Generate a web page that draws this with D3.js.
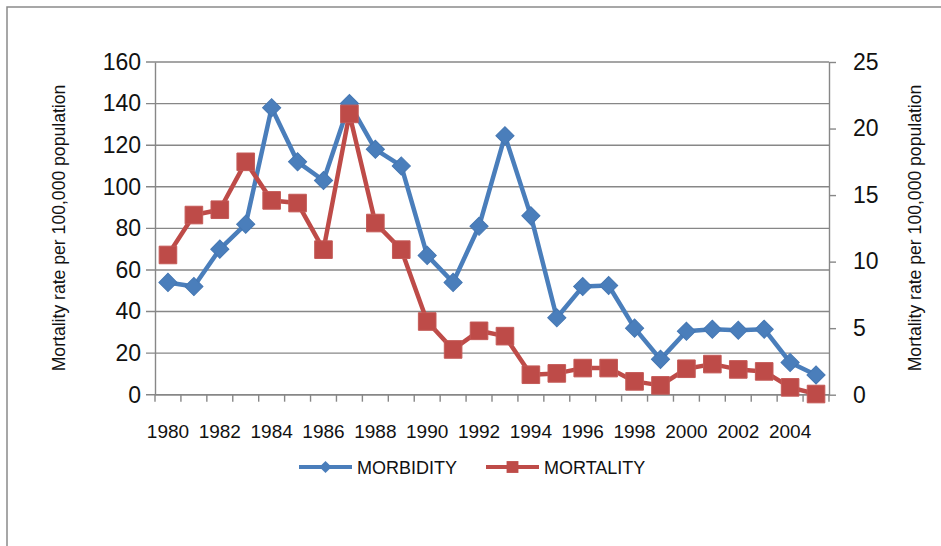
<!DOCTYPE html>
<html>
<head>
<meta charset="utf-8">
<script src="https://cdn.jsdelivr.net/npm/d3@7/dist/d3.min.js"></script>
<style>
  html, body { margin: 0; padding: 0; background: #fff; }
  svg { display: block; font-family: "Liberation Sans", Arial, sans-serif; }
  .axis text { fill: #111; }
</style>
</head>
<body>
<svg id="chart" width="941" height="546"></svg>
<script>
// ── Data ──────────────────────────────────────────────
const years = d3.range(1980, 2006);
const morbidity = [54, 52, 70, 82, 138, 112, 103, 140, 118, 110, 67, 54, 81, 124.5, 86, 37,
  52, 52.5, 32, 17, 30.5, 31.5, 31, 31.5, 15.5, 9.5];
const mortality = [10.5, 13.5, 13.9, 17.5, 14.6, 14.4, 10.9, 21.1, 12.9, 10.9, 5.5, 3.4, 4.8, 4.4, 1.5, 1.6,
  2.0, 2.0, 1.0, 0.7, 1.95, 2.3, 1.9, 1.75, 0.55, 0.05];
const leftTicks = [0, 20, 40, 60, 80, 100, 120, 140, 160];
const rightTicks = [0, 5, 10, 15, 20, 25];
const yearLabels = years.filter((y) => y % 2 === 0);
const seriesNames = ['MORBIDITY', 'MORTALITY'];
const axisTitle = 'Mortality rate per 100,000 population';

// ── Layout ────────────────────────────────────────────
const plot = {left: 155, right: 829, top: 62, bottom: 394.7};
const BLUE = '#4A7EBB';
const RED = '#BE4B48';
const GRID = '#878787';

const svg = d3.select('#chart');

// outer frame
svg.append('rect')
  .attr('x', 7).attr('y', 7)
  .attr('width', 960).attr('height', 560)
  .attr('fill', 'none').attr('stroke', '#8a8a8a').attr('stroke-width', 1.5);

const xBand = d3.scaleBand().domain(years).range([plot.left, plot.right]).padding(0);
const xPos = (yr) => xBand(yr) + xBand.bandwidth() / 2;
const yLeft = d3.scaleLinear().domain([0, 160]).range([plot.bottom, plot.top]);
const yRight = d3.scaleLinear().domain([0, 25]).range([plot.bottom, plot.top]);

// gridlines (extend left as tick marks)
svg.append('g')
  .selectAll('line')
  .data(leftTicks)
  .join('line')
  .attr('x1', plot.left - 9).attr('x2', plot.right)
  .attr('y1', (d) => yLeft(d)).attr('y2', (d) => yLeft(d))
  .attr('stroke', GRID).attr('stroke-width', 1.4);

// left axis
const leftAxis = svg.append('g')
  .attr('class', 'axis')
  .attr('transform', `translate(${plot.left},0)`)
  .call(d3.axisLeft(yLeft).tickValues(leftTicks).tickSize(0).tickPadding(14));
leftAxis.select('.domain').attr('stroke', GRID).attr('stroke-width', 1.4);
leftAxis.selectAll('text').attr('font-size', 23);

// right axis
const rightAxis = svg.append('g')
  .attr('class', 'axis')
  .attr('transform', `translate(${plot.right},0)`)
  .call(d3.axisRight(yRight).tickValues(rightTicks).tickSize(7).tickSizeOuter(0).tickPadding(17));
rightAxis.select('.domain').attr('stroke', GRID).attr('stroke-width', 1.4);
rightAxis.selectAll('line').attr('stroke', GRID).attr('stroke-width', 1.4);
rightAxis.selectAll('text').attr('font-size', 23);

// bottom axis: line + tick marks at band edges
const xAxisG = svg.append('g').attr('class', 'axis');
xAxisG.append('line')
  .attr('x1', plot.left).attr('x2', plot.right)
  .attr('y1', plot.bottom).attr('y2', plot.bottom)
  .attr('stroke', GRID).attr('stroke-width', 1.4);
xAxisG.selectAll('.tickmark')
  .data(years.concat([null]))
  .join('line')
  .attr('class', 'tickmark')
  .attr('x1', (d) => (d === null ? plot.right : xBand(d)))
  .attr('x2', (d) => (d === null ? plot.right : xBand(d)))
  .attr('y1', plot.bottom).attr('y2', plot.bottom + 7)
  .attr('stroke', GRID).attr('stroke-width', 1.4);
xAxisG.selectAll('.xlabel')
  .data(yearLabels)
  .join('text')
  .attr('class', 'xlabel')
  .attr('x', (d) => xPos(d))
  .attr('y', 438)
  .attr('text-anchor', 'middle')
  .attr('font-size', 19)
  .text((d) => d);

// axis titles
svg.append('text')
  .attr('transform', 'translate(64.5,228) rotate(-90)')
  .attr('text-anchor', 'middle').attr('font-size', 17.6).attr('fill', '#111')
  .text(axisTitle);
svg.append('text')
  .attr('transform', 'translate(920.5,228) rotate(-90)')
  .attr('text-anchor', 'middle').attr('font-size', 17.6).attr('fill', '#111')
  .text(axisTitle);

// series
const diamond = d3.symbol().type(d3.symbolSquare).size(165);
const square = d3.symbol().type(d3.symbolSquare).size(310);

const morbLine = d3.line().x((d, i) => xPos(years[i])).y((d) => yLeft(d));
const mortLine = d3.line().x((d, i) => xPos(years[i])).y((d) => yRight(d));

svg.append('path').datum(morbidity)
  .attr('d', morbLine).attr('fill', 'none')
  .attr('stroke', BLUE).attr('stroke-width', 4.5).attr('stroke-linejoin', 'round');
svg.append('g').selectAll('path')
  .data(morbidity)
  .join('path')
  .attr('d', diamond)
  .attr('transform', (d, i) => `translate(${xPos(years[i])},${yLeft(d)}) rotate(45)`)
  .attr('fill', BLUE).attr('stroke', '#4577B3').attr('stroke-width', 1);

svg.append('path').datum(mortality)
  .attr('d', mortLine).attr('fill', 'none')
  .attr('stroke', RED).attr('stroke-width', 4.5).attr('stroke-linejoin', 'round');
svg.append('g').selectAll('path')
  .data(mortality)
  .join('path')
  .attr('d', square)
  .attr('transform', (d, i) => `translate(${xPos(years[i])},${yRight(d)})`)
  .attr('fill', RED).attr('stroke', '#C45A57').attr('stroke-width', 1);

// legend
const legendItems = [
  {name: seriesNames[0], color: BLUE, x: 299, sym: 'diamond'},
  {name: seriesNames[1], color: RED, x: 486, sym: 'square'}
];
const legend = svg.append('g');
legendItems.forEach((item) => {
  const g = legend.append('g').attr('transform', `translate(${item.x},467)`);
  g.append('line').attr('x1', 0).attr('x2', 53).attr('y1', 0).attr('y2', 0)
    .attr('stroke', item.color).attr('stroke-width', 4);
  g.append('path')
    .attr('d', d3.symbol().type(d3.symbolSquare).size(item.sym === 'diamond' ? 75 : 140)())
    .attr('transform', `translate(26.5,0) rotate(${item.sym === 'diamond' ? 45 : 0})`)
    .attr('fill', item.color);
  g.append('text').attr('x', 58).attr('y', 7).attr('font-size', 18).attr('fill', '#111')
    .text(item.name);
});
</script>
</body>
</html>
